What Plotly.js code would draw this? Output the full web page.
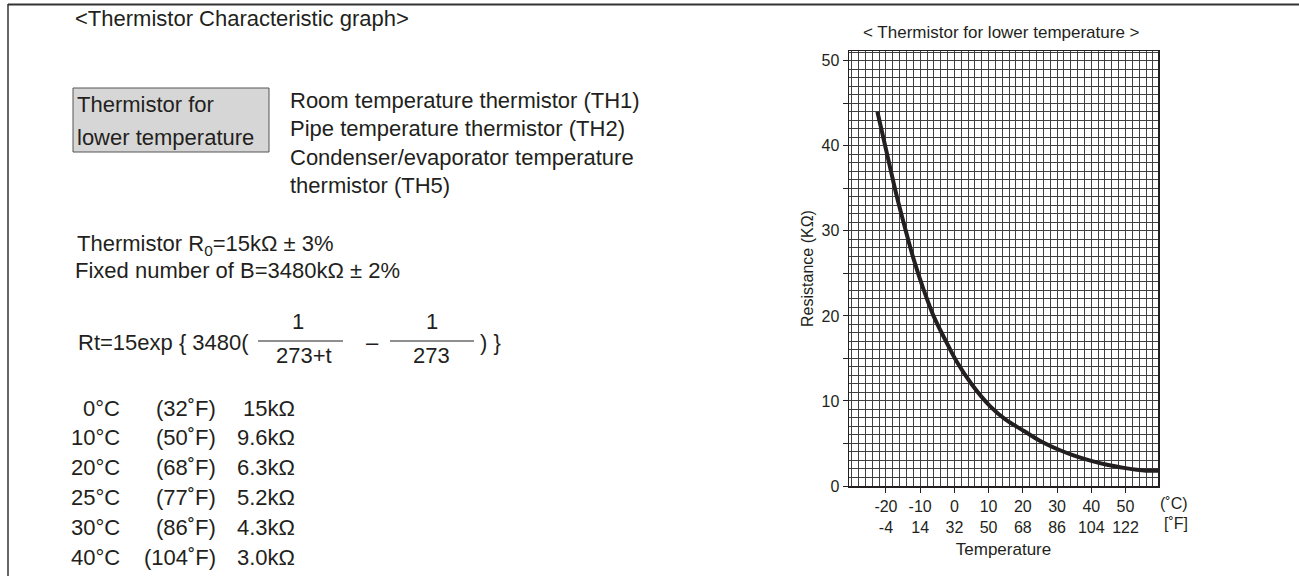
<!DOCTYPE html>
<html>
<head>
<meta charset="utf-8">
<script src="https://cdn.plot.ly/plotly-3.0.1.min.js"></script>
<style>
  html, body { margin: 0; padding: 0; background: #ffffff; }
  #chart { width: 1299px; height: 576px; }
</style>
</head>
<body>
<div id="chart"></div>
<script>
// ---- data ----
const tempC = [-22.5, -20, -16.8, -14.2, -12, -9, -6.1, -2.7, 0.7, 5, 10.4, 15, 20.2, 25.1, 30.9, 34.8, 40, 44.6, 50, 53.3, 56, 59.5];
const resK  = [44.0, 39.6, 34.0, 30.0, 26.8, 23.1, 20.0, 17.2, 14.6, 12.0, 9.4, 7.8, 6.5, 5.3, 4.2, 3.6, 2.95, 2.5, 2.1, 1.9, 1.8, 1.8];

const tickC = [-20, -10, 0, 10, 20, 30, 40, 50];
const tickF = [-4, 14, 32, 50, 68, 86, 104, 122];

const tableC = ['0°C', '10°C', '20°C', '25°C', '30°C', '40°C'];
const tableF = ['(32˚F)', '(50˚F)', '(68˚F)', '(77˚F)', '(86˚F)', '(104˚F)'];
const tableR = ['15kΩ', '9.6kΩ', '6.3kΩ', '5.2kΩ', '4.3kΩ', '3.0kΩ'];

const thermistorList = [
  'Room temperature thermistor (TH1)',
  'Pipe temperature thermistor (TH2)',
  'Condenser/evaporator temperature',
  'thermistor (TH5)'
];

// ---- layout helpers (pixel -> paper) ----
const W = 1299, H = 576;
const FONT = 'Liberation Sans, Arial, Helvetica, sans-serif';
const INK = '#231f20';
const px = x => x / W;
const py = y => 1 - y / H;

const annotations = [];
function txt(x, y, text, size, xanchor) {
  annotations.push({
    xref: 'paper', yref: 'paper', x: px(x), y: py(y),
    text: text, showarrow: false,
    xanchor: xanchor || 'left', yanchor: 'middle',
    font: { family: FONT, size: size, color: INK }
  });
}
const shapes = [];
function hline(x0, x1, y, w, c) {
  shapes.push({ type: 'line', xref: 'paper', yref: 'paper',
    x0: px(x0), x1: px(x1), y0: py(y), y1: py(y),
    line: { color: c || INK, width: w || 1 } });
}
function vline(x, y0, y1, w, c) {
  shapes.push({ type: 'line', xref: 'paper', yref: 'paper',
    x0: px(x), x1: px(x), y0: py(y0), y1: py(y1),
    line: { color: c || INK, width: w || 1 } });
}

// frame of the page
hline(8, 1299, 4.5, 2, '#333');
vline(8, 4, 576, 1.5, '#333');

// left text block
const LS = 22;
txt(73, 18, '&lt;Thermistor Characteristic graph&gt;', LS);

shapes.push({ type: 'rect', xref: 'paper', yref: 'paper',
  x0: px(73), x1: px(269), y0: py(152), y1: py(88),
  fillcolor: '#d6d6d6', line: { color: '#555', width: 1 } });
txt(75, 105, 'Thermistor for', LS);
txt(75, 137, 'lower temperature', LS);

thermistorList.forEach((s, i) => txt(288, 100 + i * 28.5, s, LS));

txt(75, 245, 'Thermistor R<sub>0</sub>=15kΩ ± 3%', LS);
txt(73, 270, 'Fixed number of B=3480kΩ ± 2%', LS);

// formula
txt(76, 342, 'Rt=15exp { 3480(', LS);
txt(298, 321, '1', LS, 'center');
hline(258, 343, 341, 1.2);
txt(304, 355, '273+t', LS, 'center');
txt(372, 342, '–', LS, 'center');
txt(432, 321, '1', LS, 'center');
hline(390, 474, 341, 1.2);
txt(432, 355, '273', LS, 'center');
txt(478, 342, ') }', LS);

// table
tableC.forEach((s, i) => {
  const y = 408 + i * 29.8;
  txt(122, y, s, LS, 'right');
  txt(218, y, tableF[i], LS, 'right');
  txt(297, y, tableR[i], LS, 'right');
});

// chart title and unit labels
txt(1001, 33, '&lt; Thermistor for lower temperature &gt;', 17, 'center');
txt(1190, 503, '(˚C)', 16, 'right');
txt(1190, 523, '[˚F]', 16, 'right');

const GRID = '#404040';

const trace = {
  x: tempC, y: resK, type: 'scatter', mode: 'lines',
  line: { color: INK, width: 4, shape: 'spline', smoothing: 1 },
  hoverinfo: 'x+y', showlegend: false
};

const layout = {
  width: W, height: H,
  margin: { l: 0, r: 0, t: 0, b: 0 },
  paper_bgcolor: '#ffffff', plot_bgcolor: '#ffffff',
  font: { family: FONT, color: INK, size: 16 },
  showlegend: false,
  xaxis: {
    domain: [px(849), px(1158)],
    range: [-30.8, 59.5],
    tickmode: 'array',
    tickvals: tickC,
    ticktext: tickC.map((c, i) => c + '<br>' + tickF[i]),
    ticks: 'outside', ticklen: 5, tickcolor: INK, tickwidth: 1,
    tickfont: { family: FONT, size: 16, color: INK },
    showgrid: true, gridcolor: GRID, gridwidth: 1,
    minor: { dtick: 2, tick0: 0, showgrid: true, gridcolor: GRID, gridwidth: 1, ticks: '' },
    showline: true, linecolor: INK, linewidth: 1.5, mirror: true,
    zeroline: false,
    title: { text: 'Temperature', font: { family: FONT, size: 17, color: INK }, standoff: 8 },
    fixedrange: true
  },
  yaxis: {
    domain: [py(486), py(51)],
    range: [0, 51.15],
    tickmode: 'linear', tick0: 0, dtick: 5, ticklabelstep: 2,
    ticks: 'outside', ticklen: 5, tickcolor: INK, tickwidth: 1,
    tickfont: { family: FONT, size: 16, color: INK },
    showgrid: true, gridcolor: GRID, gridwidth: 1,
    minor: { dtick: 1, tick0: 0, showgrid: true, gridcolor: GRID, gridwidth: 1, ticks: '' },
    showline: true, linecolor: INK, linewidth: 1.5, mirror: true,
    zeroline: false,
    title: { text: 'Resistance (KΩ)', font: { family: FONT, size: 16, color: INK }, standoff: 4 },
    fixedrange: true
  },
  annotations: annotations,
  shapes: shapes
};

Plotly.newPlot('chart', [trace], layout, { displayModeBar: false, staticPlot: true });
</script>
</body>
</html>
